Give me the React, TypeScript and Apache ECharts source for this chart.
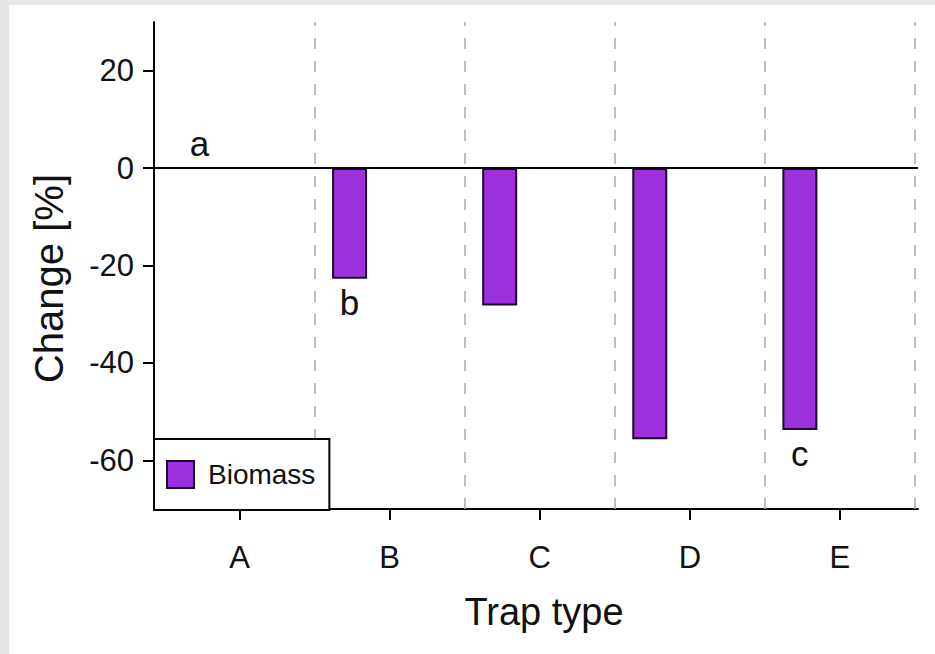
import React, { useEffect, useRef } from "react";
import * as echarts from "echarts";

const categories = ["A", "B", "C", "D", "E"];
const categoryPositions = [1, 2, 3, 4, 5];
const biomassChange = [0, -22.7, -28.2, -55.7, -53.8];
const significanceLetters = ["a", "b", "", "", "c"];
const yTickValues = [-60, -40, -20, 0, 20];
const separatorPositions = [1.5, 2.5, 3.5, 4.5, 5.5];

const FONT = "'Liberation Sans', Arial, Helvetica, sans-serif";

export default function App() {
  const ref = useRef<HTMLDivElement>(null);

  useEffect(() => {
    if (!ref.current) return;
    const chart = echarts.init(ref.current, undefined, { renderer: "svg" });

    const biomassData = categoryPositions.map((x, i) => {
      const letter = significanceLetters[i];
      return {
        value: [x, biomassChange[i]],
        label: {
          show: letter !== "",
          formatter: letter,
          position: biomassChange[i] >= 0 ? "top" : "bottom",
          distance: 6,
        },
      };
    });

    chart.setOption({
      animation: false,
      backgroundColor: "#ffffff",
      textStyle: { fontFamily: FONT },
      grid: { left: 145, top: 17, right: 17, bottom: 145, containLabel: false },
      legend: {
        data: ["Biomass"],
        left: 145,
        top: 434,
        orient: "horizontal",
        icon: "rect",
        itemWidth: 27,
        itemHeight: 27,
        padding: [21, 14, 21, 12],
        backgroundColor: "#ffffff",
        borderColor: "#000000",
        borderWidth: 2,
        borderRadius: 0,
        textStyle: { fontSize: 28, color: "#111", fontFamily: FONT, padding: [0, 0, 0, 9] },
        selectedMode: false,
        z: 10,
      },
      xAxis: {
        type: "value",
        min: 0.43,
        max: 5.52,
        name: "Trap type",
        nameLocation: "middle",
        nameGap: 84,
        nameTextStyle: { fontSize: 38, color: "#111", fontFamily: FONT, padding: [0, 0, 0, 16] },
        axisLine: { show: true, onZero: false, lineStyle: { color: "#000", width: 2 } },
        axisTick: {
          show: true,
          customValues: categoryPositions,
          length: 11,
          lineStyle: { color: "#000", width: 2 },
        },
        axisLabel: {
          customValues: categoryPositions,
          formatter: (v: number) => categories[Math.round(v) - 1] ?? "",
          fontSize: 31,
          color: "#111",
          margin: 33,
          fontFamily: FONT,
        },
        splitLine: { show: false },
      },
      yAxis: {
        type: "value",
        min: -70,
        max: 30,
        name: "Change [%]",
        nameLocation: "middle",
        nameGap: 85,
        nameTextStyle: { fontSize: 40, color: "#111", fontFamily: FONT, padding: [0, 26, 0, 0] },
        axisLine: { show: true, onZero: false, lineStyle: { color: "#000", width: 2 } },
        axisTick: {
          show: true,
          customValues: yTickValues,
          length: 11,
          lineStyle: { color: "#000", width: 2 },
        },
        axisLabel: {
          customValues: yTickValues,
          fontSize: 31,
          color: "#111",
          margin: 20,
          fontFamily: FONT,
        },
        splitLine: { show: false },
      },
      series: [
        {
          name: "Biomass",
          type: "bar",
          barWidth: 35,
          barGap: "129%",
          clip: false,
          itemStyle: { color: "#9b30dc", borderColor: "#1c0a26", borderWidth: 2 },
          label: {
            fontSize: 35,
            color: "#111",
            fontFamily: FONT,
          },
          data: biomassData,
          z: 3,
        },
        {
          name: "Spacer",
          type: "bar",
          barWidth: 35,
          clip: false,
          data: categoryPositions.map((x) => [x, "-"]),
        },
        {
          name: "Guides",
          type: "line",
          clip: false,
          data: [],
          z: 2,
          markLine: {
            silent: true,
            symbol: "none",
            label: { show: false },
            animation: false,
            data: [
              ...separatorPositions.map((p) => ({
                xAxis: p,
                lineStyle: { color: "#a9a9a9", width: 1.5, type: [11, 12] },
              })),
              { yAxis: 0, lineStyle: { color: "#000", width: 2, type: "solid" } },
            ],
          },
        },
      ],
    });

    return () => chart.dispose();
  }, []);

  return (
    <div
      style={{
        position: "fixed",
        left: 0,
        top: 0,
        width: 935,
        height: 654,
        background: "#e8e7e5",
      }}
    >
      <div
        ref={ref}
        style={{ position: "absolute", left: 9, top: 5, width: 926, height: 649, background: "#fff" }}
      />
    </div>
  );
}
